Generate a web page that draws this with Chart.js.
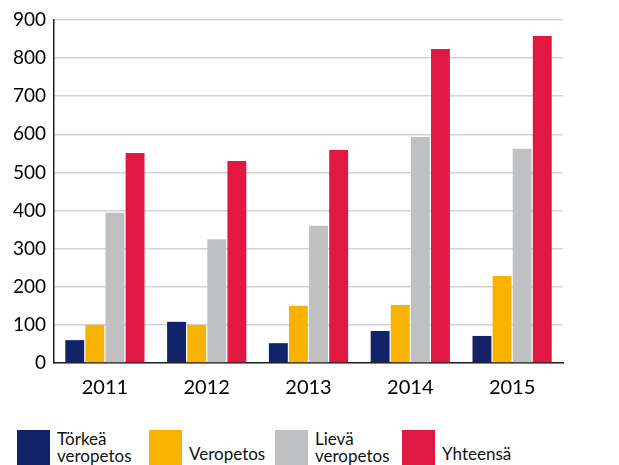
<!DOCTYPE html>
<html>
<head>
<meta charset="utf-8">
<script src="https://cdn.jsdelivr.net/npm/chart.js@4/dist/chart.umd.min.js"></script>
<style>
  body { margin: 0; background: #fff; font-family: Lato, "Open Sans", sans-serif; }
  #wrap { position: relative; width: 619px; height: 465px; overflow: hidden; }
  #box { position: absolute; left: 0; top: 0; width: 619px; height: 400px; }
  .item { position: absolute; top: 430px; height: 35px; }
  .sw { position: absolute; left: 0; top: 0; width: 33px; height: 35px; }
  .lbl { position: absolute; top: 0; font-size: 17px; line-height: 17px; color: #111; white-space: nowrap; }
</style>
</head>
<body>
<div id="wrap">
  <div id="box"><canvas id="bar-chart"></canvas></div>
  <div id="legend"></div>
</div>
<script>
var years = ["2011", "2012", "2013", "2014", "2015"];
var seriesNames = ["Törkeä\nveropetos", "Veropetos", "Lievä\nveropetos", "Yhteensä"];
var torkea = [60, 108, 52, 84, 71];
var veropetos = [100, 100, 150, 152, 228];
var lieva = [394, 325, 360, 593, 562];
var yhteensa = [551, 530, 559, 824, 858];
var yTicks = [0, 100, 200, 300, 400, 500, 600, 700, 800, 900];

var colors = ["#12236a", "#f9b200", "#bfc0c2", "#e01842"];
var values = [torkea, veropetos, lieva, yhteensa];

var ctx = document.getElementById("bar-chart").getContext("2d");

var config = {
    type: "bar",
    data: {
        labels: years,
        datasets: values.map(function (v, i) {
            return {
                label: seriesNames[i].replace("\n", " "),
                data: v,
                backgroundColor: colors[i],
                borderWidth: 0,
                barPercentage: 0.94,
                categoryPercentage: 0.79,
            };
        }),
    },
    options: {
        responsive: true,
        maintainAspectRatio: false,
        animation: false,
        layout: { padding: { top: 20, right: 56, left: 0, bottom: 0 } },
        plugins: { legend: { display: false }, tooltip: { enabled: false } },
        scales: {
            y: {
                min: 0,
                max: 900,
                afterBuildTicks: function (s) {
                    s.ticks = yTicks.map(function (t) { return { value: t }; });
                },
                afterFit: function (s) { s.width = 54; },
                border: { color: "#222", width: 1.5 },
                grid: { color: "#d4d4d4", lineWidth: 1.5, drawTicks: false },
                ticks: {
                    color: "#000",
                    padding: 8,
                    font: { family: "Lato", size: 19 },
                },
            },
            x: {
                afterFit: function (s) { s.height = 37; },
                border: { color: "#222", width: 1.5 },
                grid: { display: false },
                ticks: {
                    color: "#000",
                    padding: 5,
                    font: { family: "Lato", size: 20 },
                },
            },
        },
    },
};

var chart = new Chart(ctx, config);

// legend below the chart
var legendX = [17, 149, 275, 402];
var legend = document.getElementById("legend");
seriesNames.forEach(function (name, i) {
    var item = document.createElement("div");
    item.className = "item";
    item.style.left = legendX[i] + "px";
    var sw = document.createElement("div");
    sw.className = "sw";
    sw.style.background = colors[i];
    var lbl = document.createElement("div");
    lbl.className = "lbl";
    lbl.style.left = "40px";
    var lines = name.split("\n");
    if (lines.length === 1) lbl.style.top = "15px";
    else lbl.style.top = "0px";
    lbl.innerHTML = lines.join("<br>");
    item.appendChild(sw);
    item.appendChild(lbl);
    legend.appendChild(item);
});
</script>
</body>
</html>
